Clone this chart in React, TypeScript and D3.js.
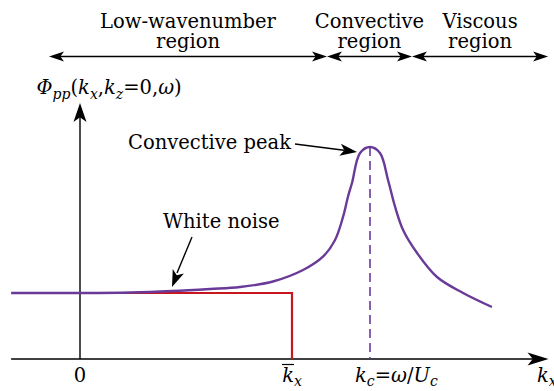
import React from "react";
import * as d3 from "d3";

// Spectrum curve (kx normalised so that k̄x = 1, Φ normalised so white-noise level = 1)
const curveKx = [-0.325, 0, 0.236, 0.434, 0.613, 0.755, 0.91, 1.052, 1.146, 1.203, 1.241, 1.264, 1.283, 1.321, 1.368, 1.415, 1.453, 1.486, 1.524, 1.59, 1.684, 1.807, 1.943];
const curvePhi = [1.0, 1.0, 1.008, 1.03, 1.061, 1.091, 1.174, 1.348, 1.55, 1.803, 2.156, 2.459, 2.667, 3.121, 3.212, 3.121, 2.712, 2.308, 1.955, 1.606, 1.242, 1.0, 0.788];

// White-noise model (red step)
const noiseKx = [0, 1, 1];
const noisePhi = [1, 1, 0];

const kBar = 1;
const kConv = 1.368;
const peakPhi = 3.212;

// Region bands along the top
const regionBounds = [-0.146, 1.165, 1.566, 2.208];
const regionLines = [["Low-wavenumber", "region"], ["Convective", "region"], ["Viscous", "region"]];

const axisX = [-0.325, 2.21];
const axisY = [0, 3.88];

const W = 554;
const H = 391;
const FONT = "'DejaVu Serif', 'Liberation Serif', serif";
const PURPLE = "#6a3a98";
const RED = "#c8161e";
const FS = 19.5;
const SUB = 14;

export default function App() {
  const x = d3.scaleLinear().domain([0, 1]).range([80, 292]);
  const y = d3.scaleLinear().domain([0, 1]).range([359, 293]);

  const pts: [number, number][] = curveKx.map((k, i) => [k, curvePhi[i]]);
  const line = d3
    .line<[number, number]>()
    .x((d) => x(d[0]))
    .y((d) => y(d[1]))
    .curve(d3.curveCatmullRom.alpha(0.5));
  const step = d3
    .line<[number, number]>()
    .x((d) => x(d[0]))
    .y((d) => y(d[1]));
  const noisePts: [number, number][] = noiseKx.map((k, i) => [k, noisePhi[i]]);

  const arrowHead = (tx: number, ty: number, dx: number, dy: number, len: number, half: number) => {
    const n = Math.hypot(dx, dy);
    const ux = dx / n;
    const uy = dy / n;
    const bx = tx - ux * len;
    const by = ty - uy * len;
    const px = -uy * half;
    const py = ux * half;
    const inset = len * 0.25;
    const mx = tx - ux * (len - inset);
    const my = ty - uy * (len - inset);
    return `M${tx},${ty}L${bx + px},${by + py}L${mx},${my}L${bx - px},${by - py}Z`;
  };

  const topY = 56.5;
  const x0 = x(0);
  const yAxis0 = y(0);

  return (
    <div style={{ position: "fixed", left: 0, top: 0 }}>
      <svg width={W} height={H} viewBox={`0 0 ${W} ${H}`} style={{ display: "block", background: "#fff" }} fontFamily={FONT}>
        {/* Region arrows */}
        {regionLines.map((lines, i) => {
          const a = x(regionBounds[i]);
          const b = x(regionBounds[i + 1]);
          const cx = (a + b) / 2;
          return (
            <g key={i}>
              <line x1={a + 10} x2={b - 10} y1={topY} y2={topY} stroke="#000" strokeWidth={1.3} />
              <path d={arrowHead(a, topY, -1, 0, 15, 5)} fill="#000" />
              <path d={arrowHead(b, topY, 1, 0, 15, 5)} fill="#000" />
              <text x={cx} y={28} textAnchor="middle" fontSize={FS}>{lines[0]}</text>
              <text x={cx} y={47.5} textAnchor="middle" fontSize={FS}>{lines[1]}</text>
            </g>
          );
        })}

        {/* Axes */}
        <line x1={x(axisX[0])} x2={x(axisX[1]) - 12} y1={yAxis0} y2={yAxis0} stroke="#000" strokeWidth={1.4} />
        <path d={arrowHead(x(axisX[1]), yAxis0, 1, 0, 21, 6.5)} fill="#000" />
        <line x1={x0} x2={x0} y1={yAxis0} y2={y(axisY[1]) + 12} stroke="#000" strokeWidth={1.4} />
        <path d={arrowHead(x0, y(axisY[1]), 0, -1, 19, 6.5)} fill="#000" />

        {/* White-noise step */}
        <path d={step(noisePts) || ""} fill="none" stroke={RED} strokeWidth={2.2} />
        {/* Dashed line at k_c */}
        <line x1={x(kConv)} x2={x(kConv)} y1={y(peakPhi)} y2={yAxis0} stroke={PURPLE} strokeWidth={1.6} strokeDasharray="9,5" />
        {/* Spectrum */}
        <path d={line(pts) || ""} fill="none" stroke={PURPLE} strokeWidth={2.4} />

        {/* Y label */}
        <text x={36.5} y={94} fontSize={FS} fontStyle="italic">
          <tspan>Φ</tspan>
          <tspan fontSize={SUB} dy={5}>pp</tspan>
          <tspan dy={-5} fontStyle="normal">(</tspan>
          <tspan>k</tspan>
          <tspan fontSize={SUB} dy={5}>x</tspan>
          <tspan dy={-5} fontStyle="normal">,</tspan>
          <tspan>k</tspan>
          <tspan fontSize={SUB} dy={5}>z</tspan>
          <tspan dy={-5} fontStyle="normal">=0,</tspan>
          <tspan>ω</tspan>
          <tspan fontStyle="normal">)</tspan>
        </text>

        {/* Annotations */}
        <text x={128} y={149} fontSize={FS}>Convective peak</text>
        <line x1={295} y1={144} x2={344} y2={150.3} stroke="#000" strokeWidth={1.4} />
        <path d={arrowHead(357, 152, 62, 8, 17, 6)} fill="#000" />

        <text x={163} y={228} fontSize={FS}>White noise</text>
        <line x1={192} y1={237} x2={177} y2={273} stroke="#000" strokeWidth={1.4} />
        <path d={arrowHead(172, 287, -20, 50, 17, 6)} fill="#000" />

        {/* X tick labels */}
        <text x={x0} y={382} textAnchor="middle" fontSize={FS}>0</text>
        <text x={x(kBar)} y={382} textAnchor="middle" fontSize={FS} fontStyle="italic">
          <tspan>k</tspan>
          <tspan fontSize={SUB} dy={4}>x</tspan>
        </text>
        <line x1={x(kBar) - 10} x2={x(kBar) + 2} y1={364.5} y2={364.5} stroke="#000" strokeWidth={1.2} />
        <text x={355} y={382} fontSize={FS} fontStyle="italic">
          <tspan>k</tspan>
          <tspan fontSize={SUB} dy={4}>c</tspan>
          <tspan dy={-4} fontStyle="normal">=</tspan>
          <tspan>ω</tspan>
          <tspan fontStyle="normal">/</tspan>
          <tspan>U</tspan>
          <tspan fontSize={SUB} dy={4}>c</tspan>
        </text>
        <text x={537} y={382} fontSize={FS} fontStyle="italic">
          <tspan>k</tspan>
          <tspan fontSize={SUB} dy={4}>x</tspan>
        </text>
      </svg>
    </div>
  );
}
